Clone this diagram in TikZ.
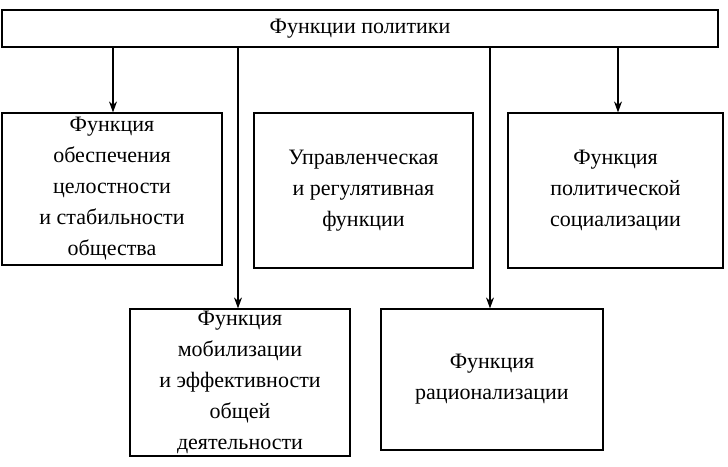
\documentclass[tikz,border=0pt]{standalone}
\usepackage{fontspec}
\setmainfont{Liberation Serif}
\usetikzlibrary{arrows.meta}
\begin{document}
\begin{tikzpicture}[x=1pt,y=-1pt,
  box/.style={draw,line width=1.2pt,align=center,font=\fontsize{22}{31}\selectfont,inner sep=0pt},
  arr/.style={line width=1.2pt,-{Stealth[length=11pt,width=8pt]}}]
\useasboundingbox (0,0) rectangle (728,466);
\node[box,minimum width=716,minimum height=37] (top) at (360,28.5) {Функции политики};
\node[box,minimum width=220,minimum height=152] (b1) at (112,189) {Функция\\обеспечения\\целостности\\и стабильности\\общества};
\node[box,minimum width=219,minimum height=155] (b2) at (363.5,190.5) {Управленческая\\и регулятивная\\функции};
\node[box,minimum width=215,minimum height=155] (b3) at (615.5,190.5) {Функция\\политической\\социализации};
\node[box,minimum width=220,minimum height=147] (b4) at (240,382.5) {Функция\\мобилизации\\и эффективности\\общей\\деятельности};
\node[box,minimum width=222,minimum height=141] (b5) at (492,379.5) {Функция\\рационализации};
\draw[arr] (top.south -| 113,0) -- (b1.north -| 113,0);
\draw[arr] (top.south -| 618,0) -- (b3.north -| 618,0);
\draw[arr] (top.south -| 238,0) -- (b4.north -| 238,0);
\draw[arr] (top.south -| 490,0) -- (b5.north -| 490,0);
\end{tikzpicture}
\end{document}
